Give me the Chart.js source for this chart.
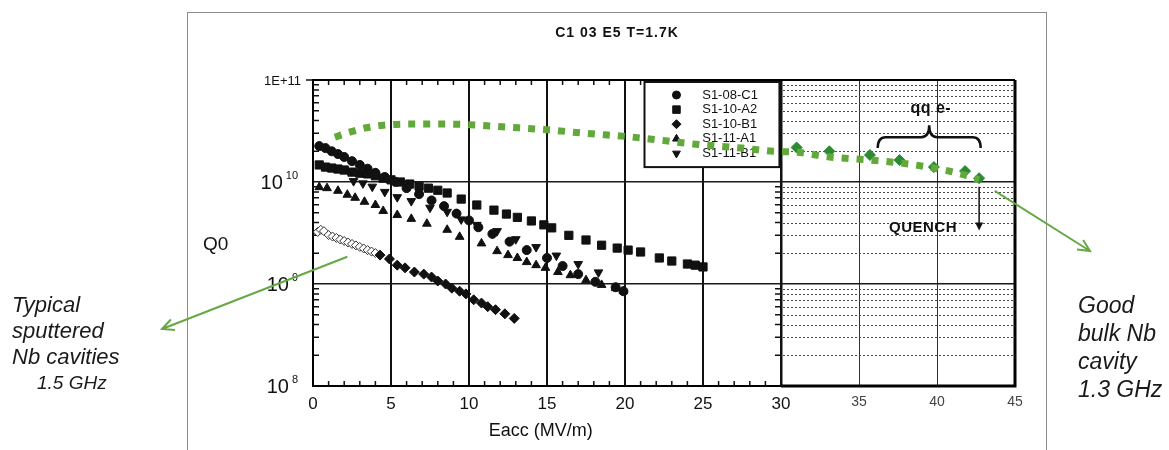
<!DOCTYPE html>
<html>
<head>
<meta charset="utf-8">
<title>Q0 vs Eacc</title>
<script src="https://cdn.jsdelivr.net/npm/chart.js@4.4.1/dist/chart.umd.min.js"></script>
<style>
  body { margin: 0; background: #fff; }
  #wrap { position: relative; width: 1169px; height: 450px; overflow: hidden; font-family: "Liberation Sans", Arial, sans-serif; }
  #frame { position: absolute; left: 187px; top: 12px; width: 858px; height: 470px; border: 1px solid #8c8c8c; }
  #chart { position: absolute; left: 0; top: 0; }
  .note { position: absolute; font-style: italic; color: #1a1a1a; white-space: nowrap; }
  #noteLeft { left: 12px; top: 292px; font-size: 22px; line-height: 26px; }
  #noteLeft span { display: block; padding-left: 25px; font-size: 19px; }
  #noteRight { left: 1078px; top: 291px; font-size: 23px; line-height: 28px; }
</style>
</head>
<body>
<div id="wrap">
  <div id="frame"></div>
  <canvas id="chart" width="1169" height="450"></canvas>
  <div class="note" id="noteLeft">Typical<br>sputtered<br>Nb cavities<span>1.5 GHz</span></div>
  <div class="note" id="noteRight">Good<br>bulk Nb<br>cavity<br>1.3 GHz</div>
</div>
<script>
// --- axis ticks ---
const xTickValues = [0, 5, 10, 15, 20, 25, 30, 35, 40, 45];
const xTickLabels = ['0', '5', '10', '15', '20', '25', '30', '35', '40', '45'];
const yTickValues = [1e8, 1e9, 1e10, 1e11];
const yTickBases = ['10', '10', '10', '1E+11'];
const yTickPowers = ['8', '9', '10', ''];

// --- sputtered Nb cavities (1.5 GHz) ---
const seriesNames = ['S1-08-C1', 'S1-10-A2', 'S1-10-B1', 'S1-11-A1', 'S1-11-B1'];

const c1Eacc = [0.4, 0.8, 1.2, 1.6, 2.0, 2.5, 3.0, 3.5, 4.0, 4.6, 5.3, 6.0, 6.8, 7.6, 8.4, 9.2, 10.0, 10.6, 11.5, 12.6, 13.7, 15.0, 16.0, 17.0, 18.1, 19.4, 19.9];
const c1Q = [2.25e10, 2.15e10, 2.0e10, 1.88e10, 1.76e10, 1.6e10, 1.47e10, 1.35e10, 1.23e10, 1.12e10, 1.0e10, 8.7e9, 7.6e9, 6.6e9, 5.8e9, 4.9e9, 4.2e9, 3.6e9, 3.1e9, 2.6e9, 2.15e9, 1.8e9, 1.5e9, 1.25e9, 1.05e9, 9.3e8, 8.5e8];

const a2Eacc = [0.4, 0.8, 1.2, 1.6, 2.0, 2.5, 3.0, 3.5, 4.0, 4.5, 5.0, 5.6, 6.2, 6.8, 7.4, 8.0, 8.6, 9.5, 10.5, 11.6, 12.4, 13.1, 14.0, 14.8, 15.3, 16.4, 17.5, 18.5, 19.5, 20.2, 21.0, 22.2, 23.0, 24.0, 24.5, 25.0];
const a2Q = [1.47e10, 1.4e10, 1.37e10, 1.34e10, 1.31e10, 1.25e10, 1.22e10, 1.2e10, 1.15e10, 1.09e10, 1.05e10, 1.0e10, 9.55e9, 9.1e9, 8.7e9, 8.3e9, 7.8e9, 6.8e9, 5.95e9, 5.3e9, 4.85e9, 4.5e9, 4.15e9, 3.8e9, 3.55e9, 3.0e9, 2.7e9, 2.4e9, 2.25e9, 2.15e9, 2.06e9, 1.8e9, 1.68e9, 1.57e9, 1.53e9, 1.47e9];

// first part of B1 is drawn open (overlapping outline markers)
const b1OpenEacc = [0.3, 0.5, 0.7, 1.0, 1.25, 1.5, 1.75, 2.0, 2.25, 2.5, 2.75, 3.0, 3.25, 3.5, 3.75, 4.0];
const b1OpenQ = [3.24e9, 3.4e9, 3.3e9, 3.02e9, 2.92e9, 2.83e9, 2.73e9, 2.64e9, 2.55e9, 2.47e9, 2.39e9, 2.31e9, 2.23e9, 2.15e9, 2.08e9, 2.01e9];
const b1Eacc = [4.3, 4.9, 5.4, 5.9, 6.5, 7.1, 7.6, 8.0, 8.5, 8.9, 9.4, 9.8, 10.3, 10.8, 11.2, 11.7, 12.3, 12.9];
const b1Q = [1.92e9, 1.76e9, 1.53e9, 1.44e9, 1.31e9, 1.25e9, 1.17e9, 1.07e9, 1.0e9, 9.1e8, 8.5e8, 8.0e8, 7.0e8, 6.5e8, 6.0e8, 5.6e8, 5.1e8, 4.6e8];

const a1Eacc = [0.4, 0.9, 1.6, 2.2, 2.7, 3.3, 4.0, 4.5, 5.4, 6.3, 7.3, 8.6, 9.4, 10.8, 11.8, 12.5, 13.1, 13.7, 14.3, 14.9, 15.7, 16.5, 17.5, 18.5, 19.4, 19.9];
const a1Q = [8.9e9, 8.7e9, 8.2e9, 7.5e9, 7.0e9, 6.4e9, 5.95e9, 5.2e9, 4.75e9, 4.35e9, 3.9e9, 3.4e9, 2.9e9, 2.5e9, 2.1e9, 1.92e9, 1.8e9, 1.64e9, 1.53e9, 1.44e9, 1.31e9, 1.22e9, 1.09e9, 9.8e8, 9.1e8, 8.5e8];

const b1bEacc = [2.6, 3.2, 3.8, 4.6, 5.4, 6.3, 7.5, 8.6, 9.5, 10.5, 11.8, 13.0, 14.3, 15.6, 17.0, 18.3];
const b1bQ = [1.02e10, 9.7e9, 9.0e9, 8.0e9, 7.1e9, 6.5e9, 5.6e9, 5.1e9, 4.3e9, 3.8e9, 3.3e9, 2.75e9, 2.3e9, 1.9e9, 1.57e9, 1.3e9];

// --- good bulk Nb cavity (1.3 GHz) ---
const bulkCurveEacc = [1.4, 2.4, 3.4, 4.5, 6, 8, 10, 12.5, 15, 17.5, 20, 22, 24.5, 27.5, 29.5, 31, 33.1, 35.7, 37.6, 39.8, 41.8, 42.7];
const bulkCurveQ = [2.75e10, 3.1e10, 3.4e10, 3.6e10, 3.7e10, 3.7e10, 3.65e10, 3.45e10, 3.25e10, 3.0e10, 2.8e10, 2.6e10, 2.35e10, 2.15e10, 2.0e10, 1.96e10, 1.76e10, 1.64e10, 1.54e10, 1.37e10, 1.17e10, 1.05e10];
const bulkPointEacc = [31, 33.1, 35.7, 37.6, 39.8, 41.8, 42.7];
const bulkPointQ = [2.18e10, 2.0e10, 1.84e10, 1.64e10, 1.4e10, 1.28e10, 1.09e10];

const FONT = '"Liberation Sans", Arial, sans-serif';
const zip = (xs, ys) => xs.map((x, i) => ({ x: x, y: ys[i] }));
const tickVal = ctx => (ctx && ctx.tick ? ctx.tick.value : 0);

const markerStyles = [
    { pointStyle: 'circle', radius: 4.5, rotation: 0 },
    { pointStyle: 'rect', radius: 5.8, rotation: 0 },
    { pointStyle: 'rectRot', radius: 5, rotation: 0 },
    { pointStyle: 'triangle', radius: 5, rotation: 0 },
    { pointStyle: 'triangle', radius: 5, rotation: 180 }
];

function blackSeries(data, style, order) {
    return {
        data: data,
        pointStyle: style.pointStyle,
        pointRadius: style.radius,
        pointRotation: style.rotation,
        pointBackgroundColor: '#111',
        pointBorderColor: '#111',
        pointBorderWidth: 1,
        order: order
    };
}

function minorValues() {
    const out = [];
    for (let d = 8; d <= 10; d++) {
        for (let m = 2; m <= 9; m++) out.push(m * Math.pow(10, d));
    }
    return out;
}

function arrowTo(ctx, x0, y0, x1, y1, color) {
    const ang = Math.atan2(y1 - y0, x1 - x0);
    const len = 13;
    ctx.save();
    ctx.strokeStyle = color;
    ctx.lineWidth = 2;
    ctx.beginPath();
    ctx.moveTo(x0, y0);
    ctx.lineTo(x1, y1);
    ctx.moveTo(x1 - len * Math.cos(ang - 0.45), y1 - len * Math.sin(ang - 0.45));
    ctx.lineTo(x1, y1);
    ctx.lineTo(x1 - len * Math.cos(ang + 0.45), y1 - len * Math.sin(ang + 0.45));
    ctx.stroke();
    ctx.restore();
}

// --- frame, minor ticks, legend and labels ---
const decorations = {
    id: 'decorations',
    beforeDatasetsDraw(chart) {
        const ctx = chart.ctx;
        const xs = chart.scales.x, ys = chart.scales.y;
        const px = v => xs.getPixelForValue(v);
        const py = v => ys.getPixelForValue(v);
        const left = px(0), right = px(45), mid = px(30);
        const top = py(1e11), bottom = py(1e8);
        const minors = minorValues();

        ctx.save();
        // dotted minor grid in the 30-45 panel
        ctx.strokeStyle = '#4a4a4a';
        ctx.lineWidth = 1;
        ctx.setLineDash([2, 2]);
        minors.forEach(v => {
            const y = Math.round(py(v)) + 0.5;
            ctx.beginPath();
            ctx.moveTo(mid + 2, y);
            ctx.lineTo(right, y);
            ctx.stroke();
        });
        ctx.setLineDash([]);

        // inward minor ticks
        ctx.strokeStyle = '#111';
        ctx.lineWidth = 1.5;
        ctx.beginPath();
        minors.forEach(v => {
            const y = py(v);
            ctx.moveTo(left, y); ctx.lineTo(left + 6, y);
            ctx.moveTo(mid - 6, y); ctx.lineTo(mid, y);
        });
        for (let i = 1; i < 30; i++) {
            if (i % 5 === 0) continue;
            ctx.moveTo(px(i), bottom); ctx.lineTo(px(i), bottom - 5);
            ctx.moveTo(px(i), top); ctx.lineTo(px(i), top + 5);
        }
        ctx.moveTo(left - 7, top); ctx.lineTo(left, top);
        ctx.stroke();

        // top edge, right edge and heavy bottom of the 30-45 panel
        ctx.strokeStyle = '#000';
        ctx.lineWidth = 2;
        ctx.beginPath();
        ctx.moveTo(left, top); ctx.lineTo(right, top);
        ctx.stroke();
        ctx.lineWidth = 3;
        ctx.beginPath();
        ctx.moveTo(mid, bottom); ctx.lineTo(right, bottom); ctx.lineTo(right, top);
        ctx.stroke();

        // legend box
        const lx0 = px(21.25), lx1 = px(29.9);
        const ly0 = top + 2, ly1 = py(1.4e10);
        ctx.fillStyle = '#fff';
        ctx.fillRect(lx0, ly0, lx1 - lx0, ly1 - ly0);
        ctx.lineWidth = 2;
        ctx.strokeStyle = '#111';
        ctx.strokeRect(lx0, ly0, lx1 - lx0, ly1 - ly0);
        ctx.font = '13px ' + FONT;
        ctx.textAlign = 'left';
        ctx.textBaseline = 'middle';
        const symX = px(23.3), txtX = px(24.95);
        seriesNames.forEach((name, i) => {
            const y = ly0 + 13 + i * 14.6;
            const st = markerStyles[i];
            ctx.fillStyle = '#111';
            ctx.strokeStyle = '#111';
            ctx.lineWidth = 1;
            Chart.helpers.drawPoint(ctx, {
                pointStyle: st.pointStyle, radius: st.radius - 0.5, rotation: st.rotation, borderWidth: 1
            }, symX, y);
            ctx.fillText(name, txtX, y);
        });

        // y tick labels with exponents
        ctx.fillStyle = '#111';
        ctx.textBaseline = 'alphabetic';
        ctx.textAlign = 'right';
        yTickValues.forEach((v, i) => {
            const y = py(v);
            if (!yTickPowers[i]) {
                ctx.font = '13px ' + FONT;
                ctx.fillText(yTickBases[i], left - 12, y + 5);
                return;
            }
            ctx.font = '11px ' + FONT;
            const pw = ctx.measureText(yTickPowers[i]).width;
            ctx.fillText(yTickPowers[i], left - 15, y - 3);
            ctx.font = '20px ' + FONT;
            ctx.fillText(yTickBases[i], left - 18 - pw, y + 7);
        });

        // axis titles
        ctx.textAlign = 'left';
        ctx.font = '19px ' + FONT;
        ctx.fillText('Q0', 203, py(2.5e9) + 7);
        ctx.textAlign = 'center';
        ctx.font = '18px ' + FONT;
        ctx.fillText('Eacc (MV/m)', px(14.6), bottom + 50);

        // chart title
        ctx.font = 'bold 14px ' + FONT;
        if ('letterSpacing' in ctx) ctx.letterSpacing = '1px';
        ctx.fillText('C1 03 E5 T=1.7K', 617, 37);

        // onset of field emission and quench
        if ('letterSpacing' in ctx) ctx.letterSpacing = '0.5px';
        ctx.font = 'bold 16px ' + FONT;
        ctx.fillText('qq e-', px(39.6), py(4.5e10) - 2);
        ctx.font = 'bold 15px ' + FONT;
        ctx.fillText('QUENCH', px(39.1), py(3.7e9) + 6);
        if ('letterSpacing' in ctx) ctx.letterSpacing = '0px';

        const bx0 = px(36.2), bx1 = px(42.8), bc = px(39.5);
        const byEnd = py(2.15e10), byBar = py(2.75e10), byTip = py(3.6e10);
        ctx.strokeStyle = '#111';
        ctx.lineWidth = 2.5;
        ctx.beginPath();
        ctx.moveTo(bx0, byEnd);
        ctx.quadraticCurveTo(bx0, byBar, bx0 + 8, byBar);
        ctx.lineTo(bc - 8, byBar);
        ctx.quadraticCurveTo(bc, byBar, bc, byTip);
        ctx.quadraticCurveTo(bc, byBar, bc + 8, byBar);
        ctx.lineTo(bx1 - 8, byBar);
        ctx.quadraticCurveTo(bx1, byBar, bx1, byEnd);
        ctx.stroke();

        const qx = px(42.7);
        const qy0 = py(9e9), qy1 = py(3.35e9);
        ctx.lineWidth = 1.5;
        ctx.beginPath();
        ctx.moveTo(qx, qy0); ctx.lineTo(qx, qy1 - 6);
        ctx.stroke();
        ctx.fillStyle = '#111';
        ctx.beginPath();
        ctx.moveTo(qx - 4, qy1 - 8); ctx.lineTo(qx + 4, qy1 - 8); ctx.lineTo(qx, qy1);
        ctx.closePath();
        ctx.fill();
        ctx.restore();
    },
    afterDatasetsDraw(chart) {
        const ctx = chart.ctx;
        const xs = chart.scales.x, ys = chart.scales.y;
        arrowTo(ctx, xs.getPixelForValue(2.2), ys.getPixelForValue(1.85e9), 162, 329, '#66a844');
        arrowTo(ctx, xs.getPixelForValue(43.7), ys.getPixelForValue(8.2e9), 1090, 251, '#66a844');
    }
};

new Chart(document.getElementById('chart'), {
    type: 'scatter',
    data: {
        datasets: [
            {
                data: zip(bulkCurveEacc, bulkCurveQ),
                showLine: true,
                borderColor: '#62a83a',
                borderWidth: 7,
                borderDash: [7, 8],
                borderCapStyle: 'butt',
                cubicInterpolationMode: 'monotone',
                pointRadius: 0,
                fill: false,
                order: 0
            },
            {
                data: zip(bulkPointEacc, bulkPointQ),
                pointStyle: 'rectRot',
                pointRadius: 5.5,
                pointBackgroundColor: '#2b8a32',
                pointBorderColor: '#2b8a32',
                order: 1
            },
            blackSeries(zip(c1Eacc, c1Q), markerStyles[0], 2),
            blackSeries(zip(a2Eacc, a2Q), markerStyles[1], 3),
            blackSeries(zip(b1Eacc, b1Q), markerStyles[2], 4),
            {
                data: zip(b1OpenEacc, b1OpenQ),
                pointStyle: 'rectRot',
                pointRadius: 4.5,
                pointBackgroundColor: '#fff',
                pointBorderColor: '#333',
                pointBorderWidth: 1,
                order: 5
            },
            blackSeries(zip(a1Eacc, a1Q), markerStyles[3], 6),
            blackSeries(zip(b1bEacc, b1bQ), markerStyles[4], 7)
        ]
    },
    options: {
        responsive: false,
        animation: false,
        layout: { padding: { left: 0, right: 154, top: 80, bottom: 0 } },
        plugins: { legend: { display: false }, tooltip: { enabled: false }, title: { display: false } },
        scales: {
            x: {
                type: 'linear',
                min: 0,
                max: 45,
                afterBuildTicks: scale => { scale.ticks = xTickValues.map(v => ({ value: v })); },
                afterFit: scale => { scale.height = 64; },
                ticks: {
                    padding: 8,
                    autoSkip: false,
                    maxRotation: 0,
                    callback: (value) => xTickLabels[xTickValues.indexOf(value)],
                    color: ctx => (tickVal(ctx) > 30 ? '#444' : '#111'),
                    font: ctx => ({ family: FONT, size: tickVal(ctx) > 30 ? 14 : 17 })
                },
                grid: {
                    drawTicks: false,
                    color: ctx => (tickVal(ctx) > 30 ? '#333' : '#111'),
                    lineWidth: ctx => {
                        const v = tickVal(ctx);
                        if (v === 0 || v === 45) return 0;
                        if (v === 35 || v === 40) return 1;
                        if (v === 30) return 2.5;
                        return 2;
                    }
                },
                border: { color: '#000', width: 2 }
            },
            y: {
                type: 'logarithmic',
                min: 1e8,
                max: 1e11,
                afterBuildTicks: scale => { scale.ticks = yTickValues.map(v => ({ value: v })); },
                afterFit: scale => { scale.width = 313; },
                ticks: { display: false },
                grid: {
                    drawTicks: false,
                    color: '#1a1a1a',
                    lineWidth: ctx => {
                        const v = tickVal(ctx);
                        return (v === 1e8 || v === 1e11) ? 0 : 1.5;
                    }
                },
                border: { color: '#000', width: 2 }
            }
        }
    },
    plugins: [decorations]
});
</script>
</body>
</html>
